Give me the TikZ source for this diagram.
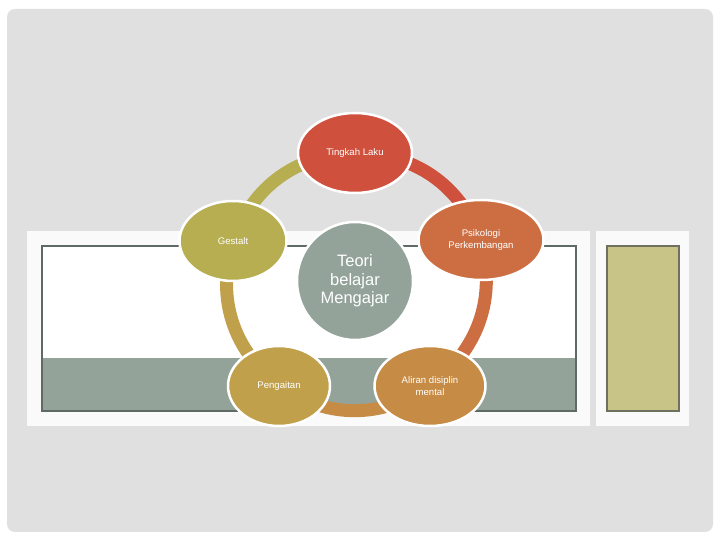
\documentclass[tikz,border=0pt]{standalone}
\usepackage{fontspec}
\setmainfont{Liberation Sans}
\usepackage{tikz}
\usetikzlibrary{shapes.geometric, backgrounds}

\definecolor{slidegray}{HTML}{E0E0E0}
\definecolor{panelwhite}{HTML}{FAFAFA}
\definecolor{frameline}{HTML}{5F6965}
\definecolor{sagegray}{HTML}{93A39A}
\definecolor{olivebox}{HTML}{C8C487}
\definecolor{oliveline}{HTML}{6E7060}
\definecolor{cTingkah}{HTML}{CF513D}
\definecolor{cPsiko}{HTML}{CD6E42}
\definecolor{cAliran}{HTML}{C68B45}
\definecolor{cPengait}{HTML}{C0A04B}
\definecolor{cGestalt}{HTML}{B6AE50}

\begin{document}
\begin{tikzpicture}[x=1pt, y=1pt,
  bubble/.style={ellipse, draw=white, line width=2.5pt, inner sep=0pt,
    text=white, align=center, font=\fontsize{9.6}{11.5}\selectfont},
  arcseg/.style={line width=13pt, bend left=34}]
  \useasboundingbox (0,0) rectangle (720,540);

  %--- slide background and panels ---
  \begin{scope}[on background layer]
    \fill[white] (0,0) rectangle (720,540);
    \fill[slidegray, rounded corners=8pt] (7,8) rectangle (713,531);
    \fill[panelwhite] (27,114) rectangle (590,309);
    \fill[white] (42,129) rectangle (576,294);
    \fill[sagegray] (42,129) rectangle (576,182);
    \draw[frameline, line width=2pt] (42,129) rectangle (576,294);
    \fill[panelwhite] (596,114) rectangle (689,309);
    \draw[oliveline, fill=olivebox, line width=1.2pt] (607,129) rectangle (679,294);
  \end{scope}

  %--- the five bubbles round the centre ---
  \node[bubble, fill=sagegray, minimum width=116pt, minimum height=118pt,
    font=\fontsize{16.5}{18.5}\selectfont] (teori) at (355,259)
    {Teori\\belajar\\Mengajar};
  \node[bubble, fill=cTingkah, minimum width=114pt, minimum height=80pt]
    (tingkah) at (355,387) {Tingkah Laku};
  \node[bubble, fill=cPsiko, minimum width=125pt, minimum height=80pt]
    (psiko) at (481,300) {Psikologi\\Perkembangan};
  \node[bubble, fill=cAliran, minimum width=111pt, minimum height=80pt]
    (aliran) at (430,154) {Aliran disiplin\\mental};
  \node[bubble, fill=cPengait, minimum width=102pt, minimum height=80pt]
    (pengait) at (279,154) {Pengaitan};
  \node[bubble, fill=cGestalt, minimum width=107pt, minimum height=80pt]
    (gestalt) at (233,299) {Gestalt};

  %--- ring segments behind the bubbles ---
  \begin{scope}[on background layer]
    \draw[arcseg, cTingkah] (tingkah.center) to (psiko.center);
    \draw[arcseg, cPsiko]   (psiko.center)   to (aliran.center);
    \draw[arcseg, cAliran]  (aliran.center)  to (pengait.center);
    \draw[arcseg, cPengait] (pengait.center) to (gestalt.center);
    \draw[arcseg, cGestalt] (gestalt.center) to (tingkah.center);
  \end{scope}
\end{tikzpicture}
\end{document}
